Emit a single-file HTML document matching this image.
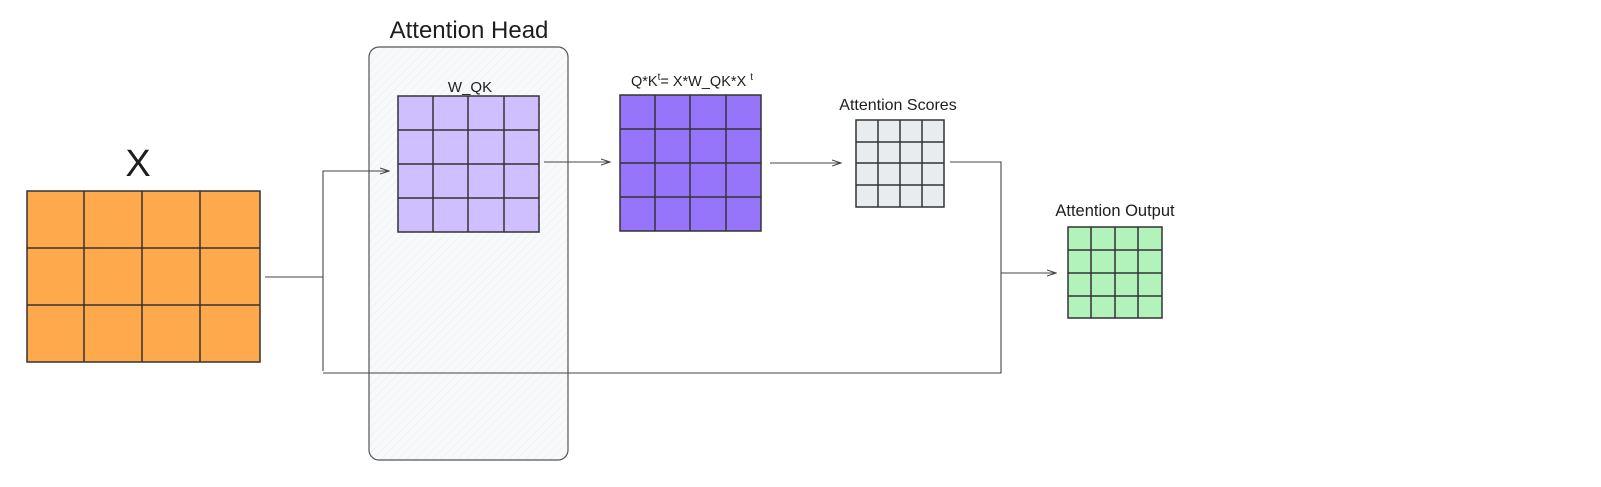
<!DOCTYPE html>
<html><head><meta charset="utf-8"><style>
html,body{margin:0;padding:0;background:#fff;}
svg{display:block;font-family:"Liberation Sans",sans-serif;}
</style></head><body>
<svg width="1601" height="487" viewBox="0 0 1601 487" xmlns="http://www.w3.org/2000/svg">
<defs>
<pattern id="hatch" width="6" height="6" patternUnits="userSpaceOnUse" patternTransform="rotate(45)">
<line x1="0" y1="0" x2="0" y2="6" stroke="#ececec" stroke-width="1"/>
</pattern>
<marker id="ar" markerWidth="10" markerHeight="8" refX="9" refY="4" orient="auto" markerUnits="userSpaceOnUse">
<path d="M0,1 L9,4 L0,7" fill="none" stroke="#444" stroke-width="1"/>
</marker>
</defs>
<rect width="1601" height="487" fill="#fff"/>

<rect x="369" y="47" width="199" height="413" rx="10" fill="#f8f9fa" stroke="#555" stroke-width="1.2"/>
<rect x="370" y="48" width="197" height="411" rx="10" fill="url(#hatch)"/>
<text x="469" y="38" font-size="24" text-anchor="middle" fill="#1e1e1e">Attention Head</text>

<text x="138" y="176" font-size="38" text-anchor="middle" fill="#1e1e1e">X</text>
<rect x="27" y="191" width="233" height="171" fill="#ffa94d" stroke="#333" stroke-width="1.5"/>
<g stroke="#333" stroke-width="1.5">
<line x1="84" y1="191" x2="84" y2="362"/><line x1="142" y1="191" x2="142" y2="362"/><line x1="200" y1="191" x2="200" y2="362"/>
<line x1="27" y1="248" x2="260" y2="248"/><line x1="27" y1="305" x2="260" y2="305"/>
</g>

<text x="470" y="92" font-size="15" text-anchor="middle" fill="#1e1e1e">W_QK</text>
<rect x="398" y="96" width="141" height="136" fill="#d0bfff" stroke="#333" stroke-width="1.5"/>
<g stroke="#333" stroke-width="1.5">
<line x1="433" y1="96" x2="433" y2="232"/><line x1="468" y1="96" x2="468" y2="232"/><line x1="504" y1="96" x2="504" y2="232"/>
<line x1="398" y1="130" x2="539" y2="130"/><line x1="398" y1="164" x2="539" y2="164"/><line x1="398" y1="198" x2="539" y2="198"/>
</g>

<text x="692" y="86" font-size="14.5" text-anchor="middle" fill="#1e1e1e">Q*K<tspan dy="-6" font-size="10">t</tspan><tspan dy="6">= X*W_QK*X </tspan><tspan dy="-6" font-size="10">t</tspan></text>
<rect x="620" y="95" width="141" height="136" fill="#9775fa" stroke="#333" stroke-width="1.5"/>
<g stroke="#333" stroke-width="1.5">
<line x1="655" y1="95" x2="655" y2="231"/><line x1="690" y1="95" x2="690" y2="231"/><line x1="726" y1="95" x2="726" y2="231"/>
<line x1="620" y1="129" x2="761" y2="129"/><line x1="620" y1="163" x2="761" y2="163"/><line x1="620" y1="197" x2="761" y2="197"/>
</g>

<text x="898" y="110" font-size="16" text-anchor="middle" fill="#1e1e1e">Attention Scores</text>
<rect x="856" y="120" width="88" height="87" fill="#e9ecef" stroke="#333" stroke-width="1.5"/>
<g stroke="#333" stroke-width="1.5">
<line x1="878" y1="120" x2="878" y2="207"/><line x1="900" y1="120" x2="900" y2="207"/><line x1="922" y1="120" x2="922" y2="207"/>
<line x1="856" y1="142" x2="944" y2="142"/><line x1="856" y1="163" x2="944" y2="163"/><line x1="856" y1="185" x2="944" y2="185"/>
</g>

<text x="1115" y="216" font-size="16.5" text-anchor="middle" fill="#1e1e1e">Attention Output</text>
<rect x="1068" y="227" width="94" height="91" fill="#b2f2bb" stroke="#333" stroke-width="1.5"/>
<g stroke="#333" stroke-width="1.5">
<line x1="1091" y1="227" x2="1091" y2="318"/><line x1="1115" y1="227" x2="1115" y2="318"/><line x1="1138" y1="227" x2="1138" y2="318"/>
<line x1="1068" y1="250" x2="1162" y2="250"/><line x1="1068" y1="273" x2="1162" y2="273"/><line x1="1068" y1="296" x2="1162" y2="296"/>
</g>

<g fill="none" stroke="#444" stroke-width="1.1">
<line x1="265" y1="277" x2="323" y2="277"/>
<polyline points="323,371 323,171 389,171" marker-end="url(#ar)"/>
<polyline points="323,373 1001,373 1001,162 950,162"/>
<line x1="1001" y1="273" x2="1056" y2="273" marker-end="url(#ar)"/>
<line x1="544" y1="162" x2="610" y2="162" marker-end="url(#ar)"/>
<line x1="770" y1="163" x2="841" y2="163" marker-end="url(#ar)"/>
</g>
</svg>
</body></html>
